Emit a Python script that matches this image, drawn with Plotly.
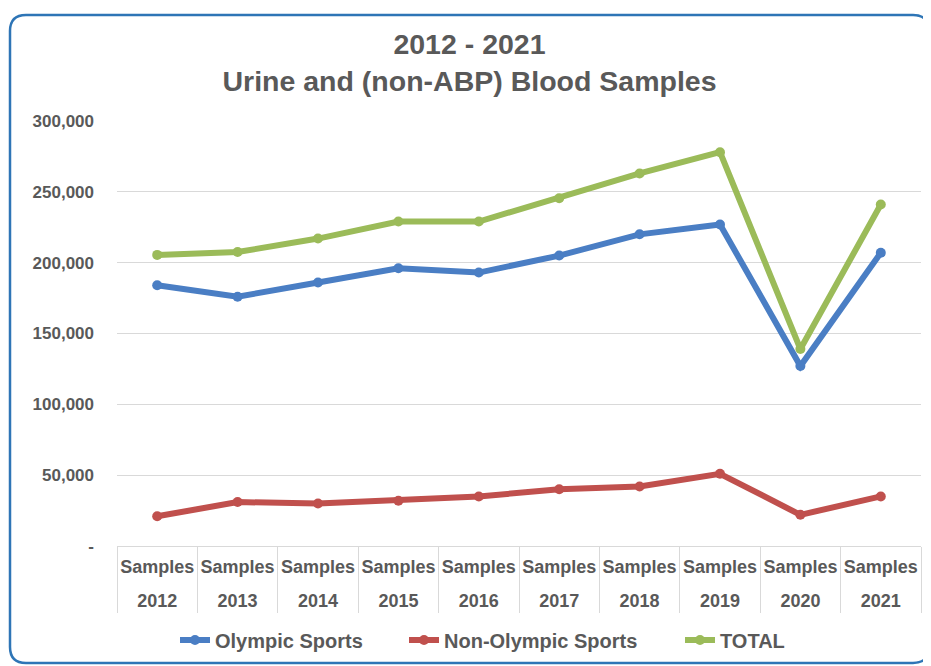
import plotly.graph_objects as go

years = ["2012", "2013", "2014", "2015", "2016", "2017", "2018", "2019", "2020", "2021"]
inner_label = ["Samples"] * len(years)

olympic = [184000, 176000, 186000, 196000, 193000, 205000, 220000, 227000, 127000, 207000]
non_olympic = [21000, 31000, 30000, 32000, 35000, 40000, 42000, 51000, 22000, 35000]
total = [205500, 207500, 217000, 229000, 229000, 245500, 263000, 278000, 139000, 241000]

series_names = ["Olympic Sports", "Non-Olympic Sports", "TOTAL"]
series_colors = ["#4A7EC4", "#C0504D", "#9BBB59"]

y_tickvals = [0, 50000, 100000, 150000, 200000, 250000, 300000]
y_ticktext = ["-", "50,000", "100,000", "150,000", "200,000", "250,000", "300,000"]

OFF = 8  # page body margin
W, H = 923, 658
ML, MR, MT, MB = 109, 10, 113, 120
PW, PH = W - ML - MR, H - MT - MB

def px2paper(sx, sy):
    return (sx - OFF - ML) / PW, (H - MB - (sy - OFF)) / PH

fig = go.Figure()
legend_ids = ["legend", "legend2", "legend3"]
for name, vals, col, lg in zip(series_names, [olympic, non_olympic, total], series_colors, legend_ids):
    fig.add_trace(go.Scatter(
        x=years, y=vals, name=name, mode="lines+markers",
        line=dict(color=col, width=6), marker=dict(color=col, size=10),
        legend=lg,
    ))

pos_idx = list(range(len(years)))
# invisible helper traces so the label axes (x2: "Samples", x3: years) are drawn
for xa in ["x2", "x3"]:
    fig.add_trace(go.Scatter(
        x=pos_idx, y=total, xaxis=xa, yaxis="y", mode="markers",
        marker=dict(opacity=0), showlegend=False, hoverinfo="skip",
    ))

# rounded border (screen pixels)
x0, y0, x1, y1, r = 10, 15, 929, 663, 16
def P(x, y):
    a, b = px2paper(x, y)
    return f"{a:.5f},{b:.5f}"
path = (f"M {P(x0 + r, y0)} L {P(x1 - r, y0)} Q {P(x1, y0)} {P(x1, y0 + r)} "
        f"L {P(x1, y1 - r)} Q {P(x1, y1)} {P(x1 - r, y1)} "
        f"L {P(x0 + r, y1)} Q {P(x0, y1)} {P(x0, y1 - r)} "
        f"L {P(x0, y0 + r)} Q {P(x0, y0)} {P(x0 + r, y0)} Z")

legend_font = dict(size=20, color="#595959", weight="bold")
legend_y = px2paper(0, 640)[1]
legend_x = [px2paper(175, 0)[0], px2paper(404, 0)[0], px2paper(680, 0)[0]]

def mk_legend(xp):
    return dict(orientation="h", x=xp, xanchor="left", y=legend_y, yanchor="middle",
                font=legend_font, bgcolor="rgba(0,0,0,0)", borderwidth=0)

fig.update_layout(
    width=W, height=H,
    margin=dict(l=ML, r=MR, t=MT, b=MB, autoexpand=False),
    paper_bgcolor="white", plot_bgcolor="white",
    font=dict(family="Liberation Sans, Arial, sans-serif", color="#595959"),
    title=dict(
        text="<b>2012 - 2021</b><br><b>Urine and (non-ABP) Blood Samples</b>",
        x=0.5, xanchor="center", y=1 - 46 / H, yanchor="top",
        font=dict(size=28.5, color="#595959"),
    ),
    showlegend=True,
    legend=mk_legend(legend_x[0]),
    legend2=mk_legend(legend_x[1]),
    legend3=mk_legend(legend_x[2]),
    shapes=[dict(type="path", path=path, xref="paper", yref="paper",
                 line=dict(color="#2E75B6", width=2.5), layer="below")],
    xaxis=dict(
        type="category", showgrid=False, showline=True, linecolor="#d9d9d9",
        linewidth=1, tickson="boundaries", ticks="outside", ticklen=66,
        tickcolor="#d9d9d9", tickwidth=1, showticklabels=False,
        range=[-0.5, 9.5], automargin=False,
    ),
    xaxis2=dict(
        overlaying="x", anchor="y", side="bottom", type="linear",
        range=[-0.5, 9.5], tickvals=pos_idx, ticktext=inner_label,
        showgrid=False, showline=False, zeroline=False, ticks="",
        tickfont=dict(size=18, color="#595959", weight="bold"),
        tickangle=0, ticklabelstandoff=8, automargin=False,
    ),
    xaxis3=dict(
        overlaying="x", anchor="y", side="bottom", type="linear",
        range=[-0.5, 9.5], tickvals=pos_idx, ticktext=years,
        showgrid=False, showline=False, zeroline=False, ticks="",
        tickfont=dict(size=18, color="#595959", weight="bold"),
        tickangle=0, ticklabelstandoff=42, automargin=False,
    ),
    yaxis=dict(
        range=[0, 300000], tickvals=y_tickvals, ticktext=y_ticktext,
        showgrid=True, gridcolor="#d9d9d9", gridwidth=1, zeroline=False,
        tickfont=dict(size=17, color="#595959", weight="bold"),
        ticklabelstandoff=22, showline=False, automargin=False,
    ),
)

fig.write_html("out.html")
